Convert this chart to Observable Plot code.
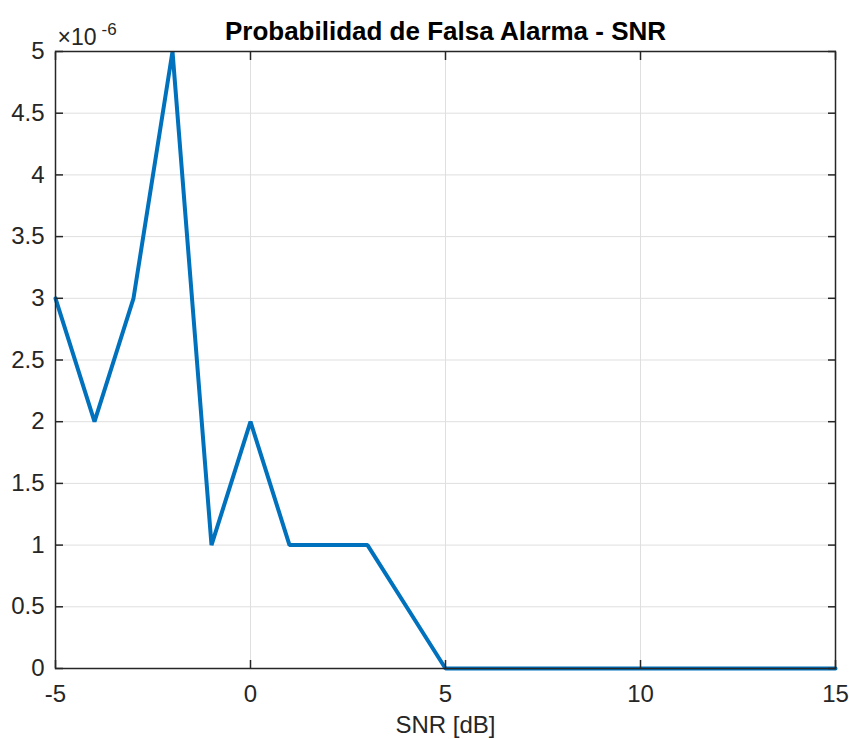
<!DOCTYPE html>
<html>
<head>
<meta charset="utf-8">
<script src="https://cdn.jsdelivr.net/npm/d3@7"></script>
<script src="https://cdn.jsdelivr.net/npm/@observablehq/plot@0.6"></script>
<style>
  html, body { margin: 0; padding: 0; background: #fff; }
  #chart svg { display: block; }
</style>
</head>
<body>
<div id="chart"></div>
<script>
// SNR in dB
const snr = [-5,-4,-3,-2,-1,0,1,2,3,4,5,6,7,8,9,10,11,12,13,14,15];
// Probability of false alarm, in units of 1e-6
const pfa = [3,2,3,5,1,2,1,1,1,0.5,0,0,0,0,0,0,0,0,0,0,0];
const xTicks = [-5,0,5,10,15];
const yTicks = [0,0.5,1,1.5,2,2.5,3,3.5,4,4.5,5];
const titleText = "Probabilidad de Falsa Alarma - SNR";
const xLabel = "SNR [dB]";

const data = snr.map((s, i) => ({snr: s, pfa: pfa[i]}));
const font = "'Liberation Sans', Arial, Helvetica, sans-serif";
const ink = "#262626";

const chart = Plot.plot({
  width: 849,
  height: 739,
  marginTop: 51,
  marginBottom: 71,
  marginLeft: 55,
  marginRight: 14,
  style: {fontFamily: font, fontSize: "24px", color: ink, background: "#fff"},
  x: {domain: [-5, 15], ticks: xTicks},
  y: {domain: [0, 5], ticks: yTicks},
  marks: [
    Plot.gridX(xTicks, {stroke: "#dfdfdf", strokeOpacity: 1, strokeWidth: 1}),
    Plot.gridY(yTicks, {stroke: "#dfdfdf", strokeOpacity: 1, strokeWidth: 1}),
    Plot.line(data, {x: "snr", y: "pfa", stroke: "#0072BD", strokeWidth: 4, strokeLinejoin: "miter"}),
    Plot.frame({stroke: ink, strokeWidth: 1.5}),
    // inward ticks
    Plot.axisX(xTicks, {anchor: "bottom", tickSize: -8, text: null, label: null, stroke: ink, strokeWidth: 1.5}),
    Plot.axisX(xTicks, {anchor: "top", tickSize: -8, text: null, label: null, stroke: ink, strokeWidth: 1.5}),
    Plot.axisY(yTicks, {anchor: "left", tickSize: -8, text: null, label: null, stroke: ink, strokeWidth: 1.5}),
    Plot.axisY(yTicks, {anchor: "right", tickSize: -8, text: null, label: null, stroke: ink, strokeWidth: 1.5}),
    // tick labels
    Plot.axisX(xTicks, {anchor: "bottom", tickSize: 0, tickPadding: 16, label: null, fill: ink, fontSize: 24, tickFormat: d => String(d)}),
    Plot.axisY(yTicks, {anchor: "left", tickSize: 0, tickPadding: 11, label: null, fill: ink, fontSize: 24, tickFormat: d => String(d)}),
    // x label
    Plot.text([xLabel], {frameAnchor: "bottom", lineAnchor: "middle", dy: 57, fill: ink, fontSize: 24}),
    // title
    Plot.text([titleText], {frameAnchor: "top", lineAnchor: "middle", dy: -20, fill: "#000", fontSize: 26, fontWeight: "bold"}),
    // exponent
    Plot.text(["×10"], {frameAnchor: "top-left", lineAnchor: "middle", dx: 2, dy: -14, textAnchor: "start", fill: ink, fontSize: 23}),
    Plot.text(["-6"], {frameAnchor: "top-left", lineAnchor: "middle", dx: 46, dy: -22, textAnchor: "start", fill: ink, fontSize: 17})
  ]
});
document.getElementById("chart").appendChild(chart);
</script>
</body>
</html>
